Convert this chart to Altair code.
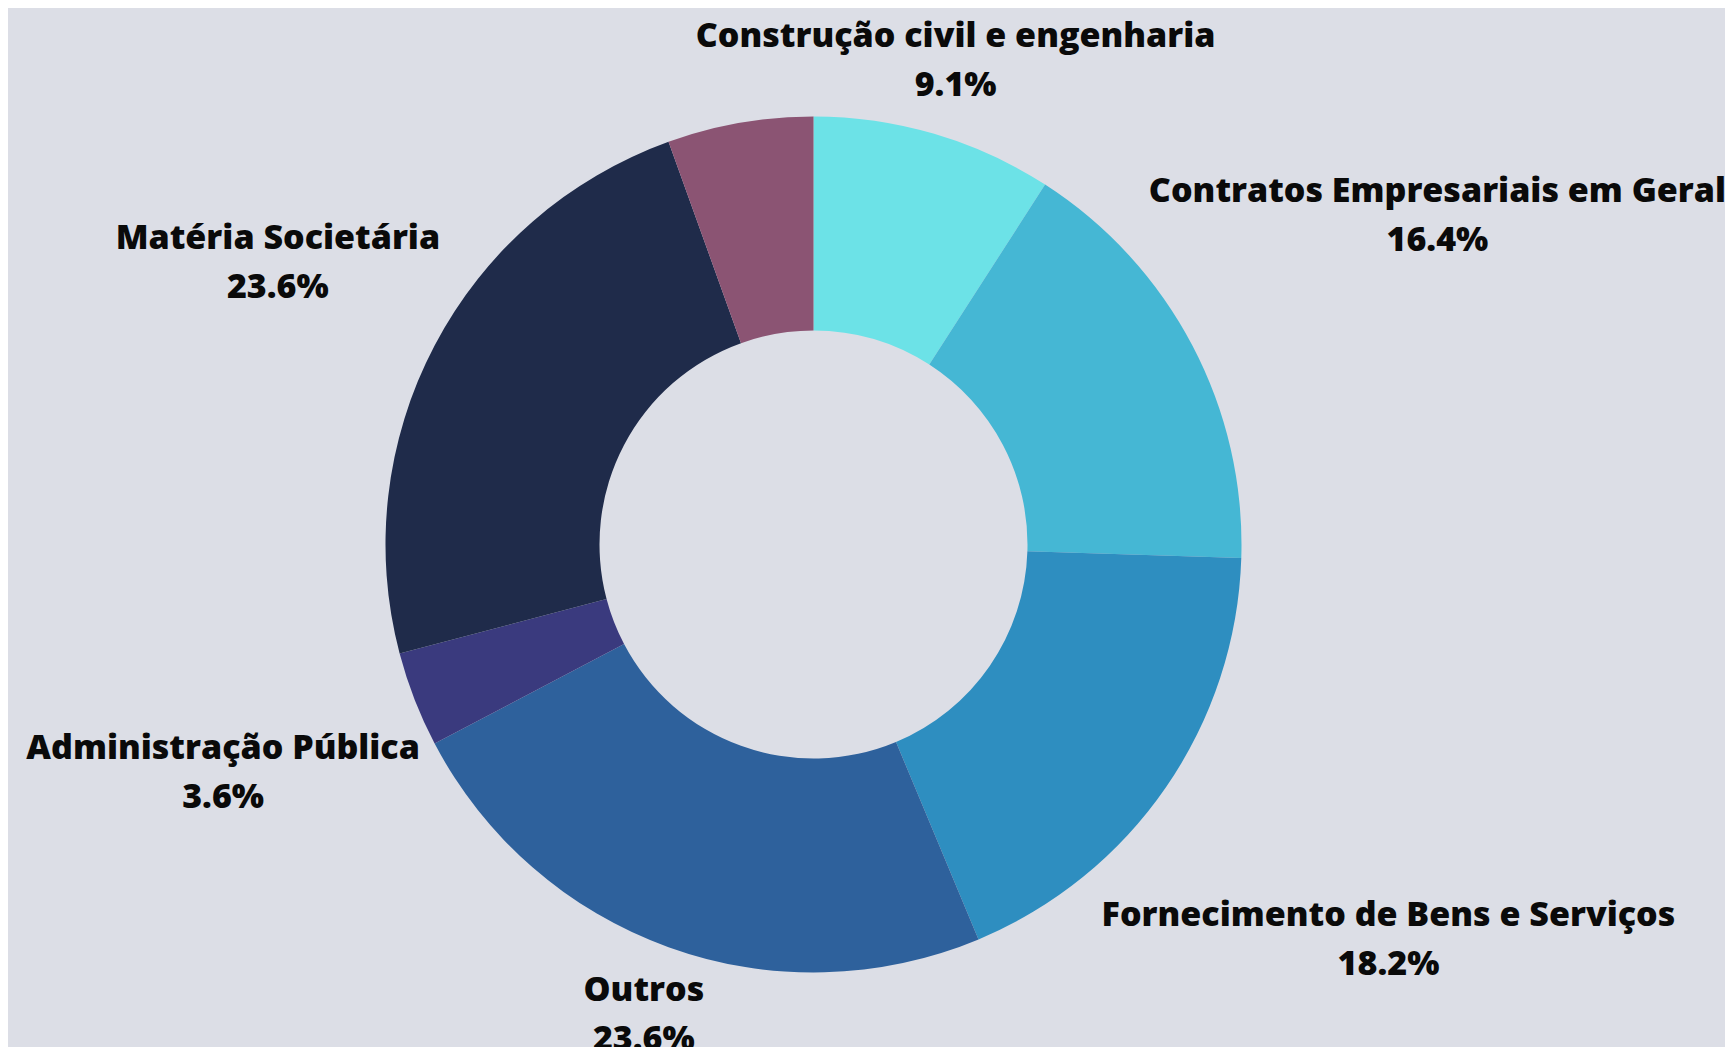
import altair as alt
import pandas as pd

# ---- data ----
categories = [
    "Construção civil e engenharia",
    "Contratos Empresariais em Geral",
    "Fornecimento de Bens e Serviços",
    "Outros",
    "Administração Pública",
    "Matéria Societária",
    "Sem rótulo",
]
shares = [9.1, 16.4, 18.2, 23.6, 3.6, 23.6, 5.5]
labelled = [True, True, True, True, True, True, False]
colors = ["#6ce2e7", "#45b7d4", "#2e8ec0", "#2e619c", "#3a3a7e", "#1f2b4a", "#8b5473"]

# ---- layout ----
W, H = 1717, 1039
CX, CY = 805.5, 536.5
R_OUT, R_IN = 428, 214
FONT_SIZE = 34
LINE_H = 49
LABEL_R0 = 436
TOP_MIN = 53
RIGHT_PAD = 3
BG = "#dcdee6"

df = pd.DataFrame({
    "category": categories,
    "share": shares,
    "idx": list(range(len(categories))),
    "labelled": labelled,
})
df["label"] = [f"{c}\n{s:.1f}%" for c, s in zip(categories, shares)]

color_scale = alt.Scale(domain=categories, range=colors)

arcs = alt.Chart(df).mark_arc(
    outerRadius=R_OUT, innerRadius=R_IN, strokeWidth=0
).encode(
    theta=alt.Theta("share:Q", stack=True),
    order=alt.Order("idx:Q"),
    color=alt.Color("category:N", scale=color_scale, legend=None),
    x=alt.value(CX),
    y=alt.value(CY),
)

texts = alt.Chart(df).transform_window(
    cum="sum(share)", sort=[{"field": "idx"}]
).transform_joinaggregate(
    total="sum(share)"
).transform_filter(
    "datum.labelled"
).transform_calculate(
    mid="(datum.cum - datum.share / 2) / datum.total * 2 * PI",
    s="sin(datum.mid)",
    c="cos(datum.mid)",
    w=f"max(length(datum.category) * 0.54, (length(format(datum.share, '.1f')) + 1) * 0.6) * {FONT_SIZE}",
    h=f"{2 * LINE_H}",
).transform_calculate(
    lr0=f"{LABEL_R0} + abs(datum.s) * datum.w / 2 + abs(datum.c) * datum.h / 2",
).transform_calculate(
    lr=(
        f"min(datum.lr0, "
        f"datum.c > 0.01 ? ({CY} - {TOP_MIN}) / datum.c : 1e9, "
        f"datum.s > 0.01 ? ({W} - {RIGHT_PAD} - datum.w / 2 - {CX}) / datum.s : 1e9, "
        f"datum.s < -0.01 ? ({CX} - datum.w / 2) / (-datum.s) : 1e9)"
    )
).transform_calculate(
    lx=f"{CX} + datum.lr * datum.s",
    ly=f"{CY} - datum.lr * datum.c",
).mark_text(
    font="Open Sans",
    fontWeight=800,
    fontSize=FONT_SIZE,
    lineHeight=LINE_H,
    lineBreak="\n",
    align="center",
    baseline="middle",
    dy=-LINE_H / 2,
    color="#0a0a0a",
).encode(
    x=alt.X("lx:Q", scale=None, axis=None),
    y=alt.Y("ly:Q", scale=None, axis=None),
    text="label:N",
)

chart = alt.layer(arcs, texts).properties(
    width=W,
    height=H,
    padding=0,
    autosize="none",
    background=BG,
).configure_view(stroke=None)

chart.save("out.html", embed_options={"renderer": "svg", "actions": False})
